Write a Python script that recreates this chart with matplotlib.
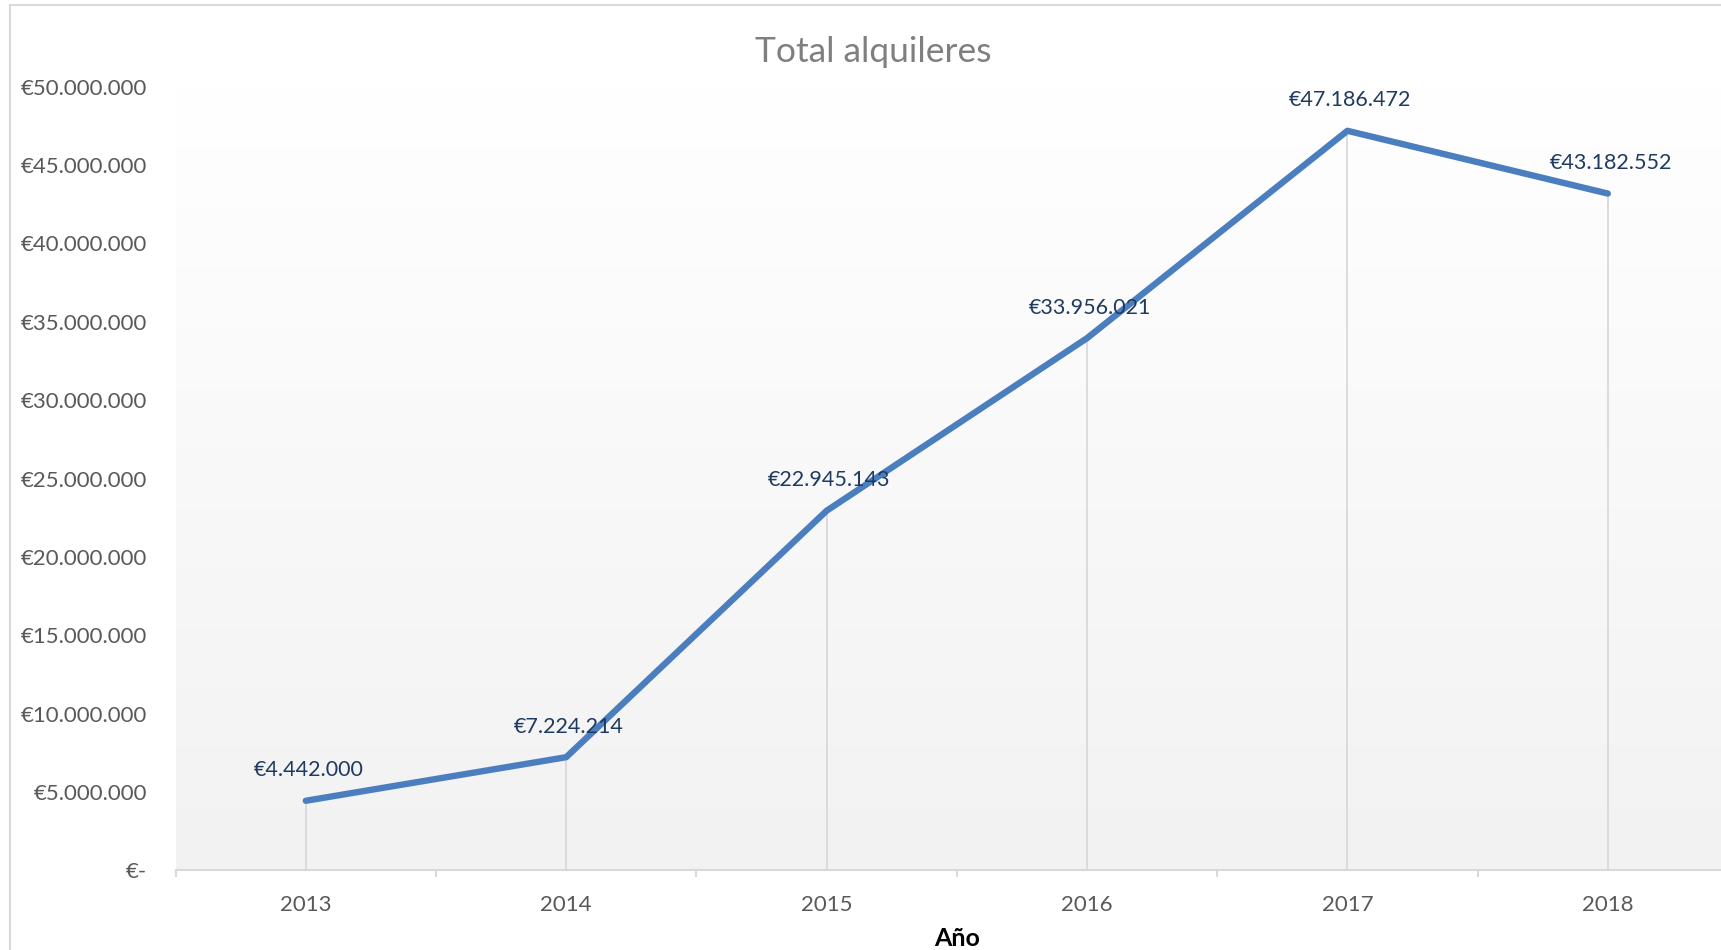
import matplotlib
matplotlib.use("Agg")
import matplotlib.pyplot as plt
import numpy as np
from matplotlib.patches import Rectangle
from matplotlib.ticker import FuncFormatter, FixedLocator

# ---- data ----
years = ["2013", "2014", "2015", "2016", "2017", "2018"]
totals = [4442000, 7224214, 22945143, 33956021, 47186472, 43182552]
title = "Total alquileres"
xlabel = "Año"
yticks = [0, 5000000, 10000000, 15000000, 20000000, 25000000,
          30000000, 35000000, 40000000, 45000000, 50000000]

plt.rcParams['font.family'] = ['Lato', 'DejaVu Sans']

W, H = 1721, 950
fig = plt.figure(figsize=(W / 100, H / 100), dpi=100)
fig.patch.set_facecolor("white")

# chart area border (top and left visible)
fig.patches.append(Rectangle((10 / W, -0.1), 1.2, (H - 5) / H + 0.1,
                             transform=fig.transFigure, fill=False,
                             edgecolor="#d9d9d9", linewidth=1.5, zorder=0))

left = 175.6 / W
right = 1738 / W
bottom = (H - 870.4) / H
top = (H - 86.7) / H
ax = fig.add_axes([left, bottom, right - left, top - bottom])
ax.set_facecolor("none")

x = np.arange(len(years))

# gradient background
grad = np.linspace(0, 1, 256).reshape(-1, 1)
top_c = np.array([1.0, 1.0, 1.0])
bot_c = np.array([0xf2, 0xf2, 0xf2]) / 255
img = top_c[None, None, :] * (1 - grad[:, :, None]) + bot_c[None, None, :] * grad[:, :, None]
ax.imshow(img, extent=[0, 1, 0, 1], transform=ax.transAxes, aspect="auto",
          zorder=0, origin="upper")
ax.set_xlim(-0.5, len(years) - 0.5)
ax.set_ylim(0, 50000000)

# drop lines
ax.vlines(x, 0, totals, colors="#d9d9d9", linewidth=1.3, zorder=1)

# main line
ax.plot(x, totals, color="#4a7ebf", linewidth=4.6, solid_capstyle="round",
        solid_joinstyle="round", zorder=3)

def fmt_eur(v):
    if v == 0:
        return "€-"
    return "€" + f"{v:,.0f}".replace(",", ".")

for xi, v in zip(x, totals):
    ax.annotate(fmt_eur(v), (xi, v), xytext=(2, 22), textcoords="offset points",
                ha="center", va="center", fontsize=15.5, color="#1f3a60", zorder=4)

# spines
for s in ["top", "right", "left"]:
    ax.spines[s].set_visible(False)
ax.spines["bottom"].set_color("#d9d9d9")
ax.spines["bottom"].set_linewidth(1.5)
ax.spines["bottom"].set_zorder(2)

ax.set_yticks(yticks)
ax.yaxis.set_major_formatter(FuncFormatter(lambda v, p: fmt_eur(v)))
ax.tick_params(axis="y", length=0, pad=20.5, labelsize=16, labelcolor="#595959")

ax.set_xticks(x)
ax.set_xticklabels(years)
ax.xaxis.set_minor_locator(FixedLocator(np.arange(-0.5, len(years), 1.0)))
ax.tick_params(axis="x", which="major", length=0, pad=17.5, labelsize=16,
               labelcolor="#595959")
ax.tick_params(axis="x", which="minor", length=5, width=1.5, color="#d9d9d9",
               direction="out")

fig.text(873.7 / W, (H - 52.5) / H, title, ha="center", va="center",
         fontsize=25.5, color="#7f7f7f")
fig.text(956.8 / W, (H - 939) / H, xlabel, ha="center", va="center",
         fontsize=18, fontweight="bold", color="black")

fig.savefig("out.png", dpi=100)
